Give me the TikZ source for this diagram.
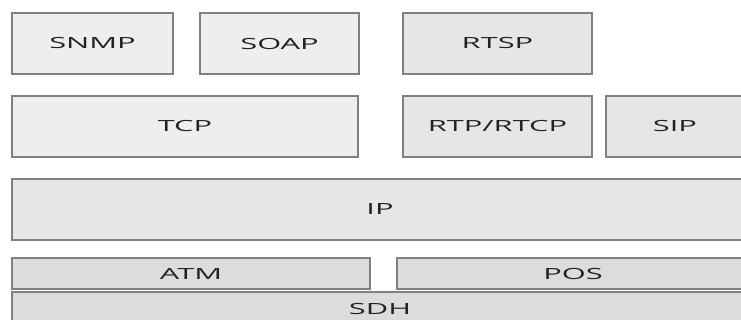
\documentclass[tikz,border=0pt]{standalone}
\usepackage{fontspec}
\newfontfamily\layerfont[FakeStretch=2]{Open Sans}
\usetikzlibrary{positioning}
\definecolor{edge}{HTML}{808080}
\definecolor{upper}{HTML}{EEEEEE}
\definecolor{mid}{HTML}{E6E6E6}
\definecolor{lower}{HTML}{DCDCDC}
\definecolor{ink}{HTML}{222222}
\begin{document}
\begin{tikzpicture}[x=1pt, y=-1pt,
    layer/.style = {draw=edge, line width=1.4pt, inner sep=0pt, outer sep=0pt, text=ink,
                    font=\layerfont\fontsize{15.4}{18}\selectfont},
    tall/.style = {layer, minimum height=61pt},
    thin/.style = {layer, minimum height=31pt}]
    \useasboundingbox (0,0) rectangle (741,320);
    \clip (0,0) rectangle (741,320);
    % application layer
    \node[tall, fill=upper, minimum width=161pt, anchor=north west] (snmp) at (12,13) {SNMP};
    \node[tall, fill=upper, minimum width=159pt] (soap) [right=27pt of snmp] {SOAP};
    \node[tall, fill=mid, minimum width=189pt] (rtsp) [right=44pt of soap] {RTSP};
    % transport layer
    \node[tall, fill=upper, minimum width=346pt] (tcp) [below right=22pt and 0pt of snmp.south west] {TCP};
    \node[tall, fill=mid, minimum width=189pt] (rtp) [below=22pt of rtsp] {RTP/RTCP};
    \node[tall, fill=mid, minimum width=138pt] (sip) [right=14pt of rtp] {SIP};
    % network layer
    \node[tall, fill=mid, minimum width=736pt] (ip) [below right=22pt and 0pt of tcp.south west] {IP};
    % link layer
    \node[thin, fill=lower, minimum width=358pt] (atm) [below right=18pt and 0pt of ip.south west] {ATM};
    \node[thin, fill=lower, minimum width=352pt] (pos) [right=27pt of atm] {POS};
    \node[layer, fill=lower, minimum width=736pt, minimum height=34pt] (sdh) [below right=3pt and 0pt of atm.south west] {SDH};
\end{tikzpicture}
\end{document}
